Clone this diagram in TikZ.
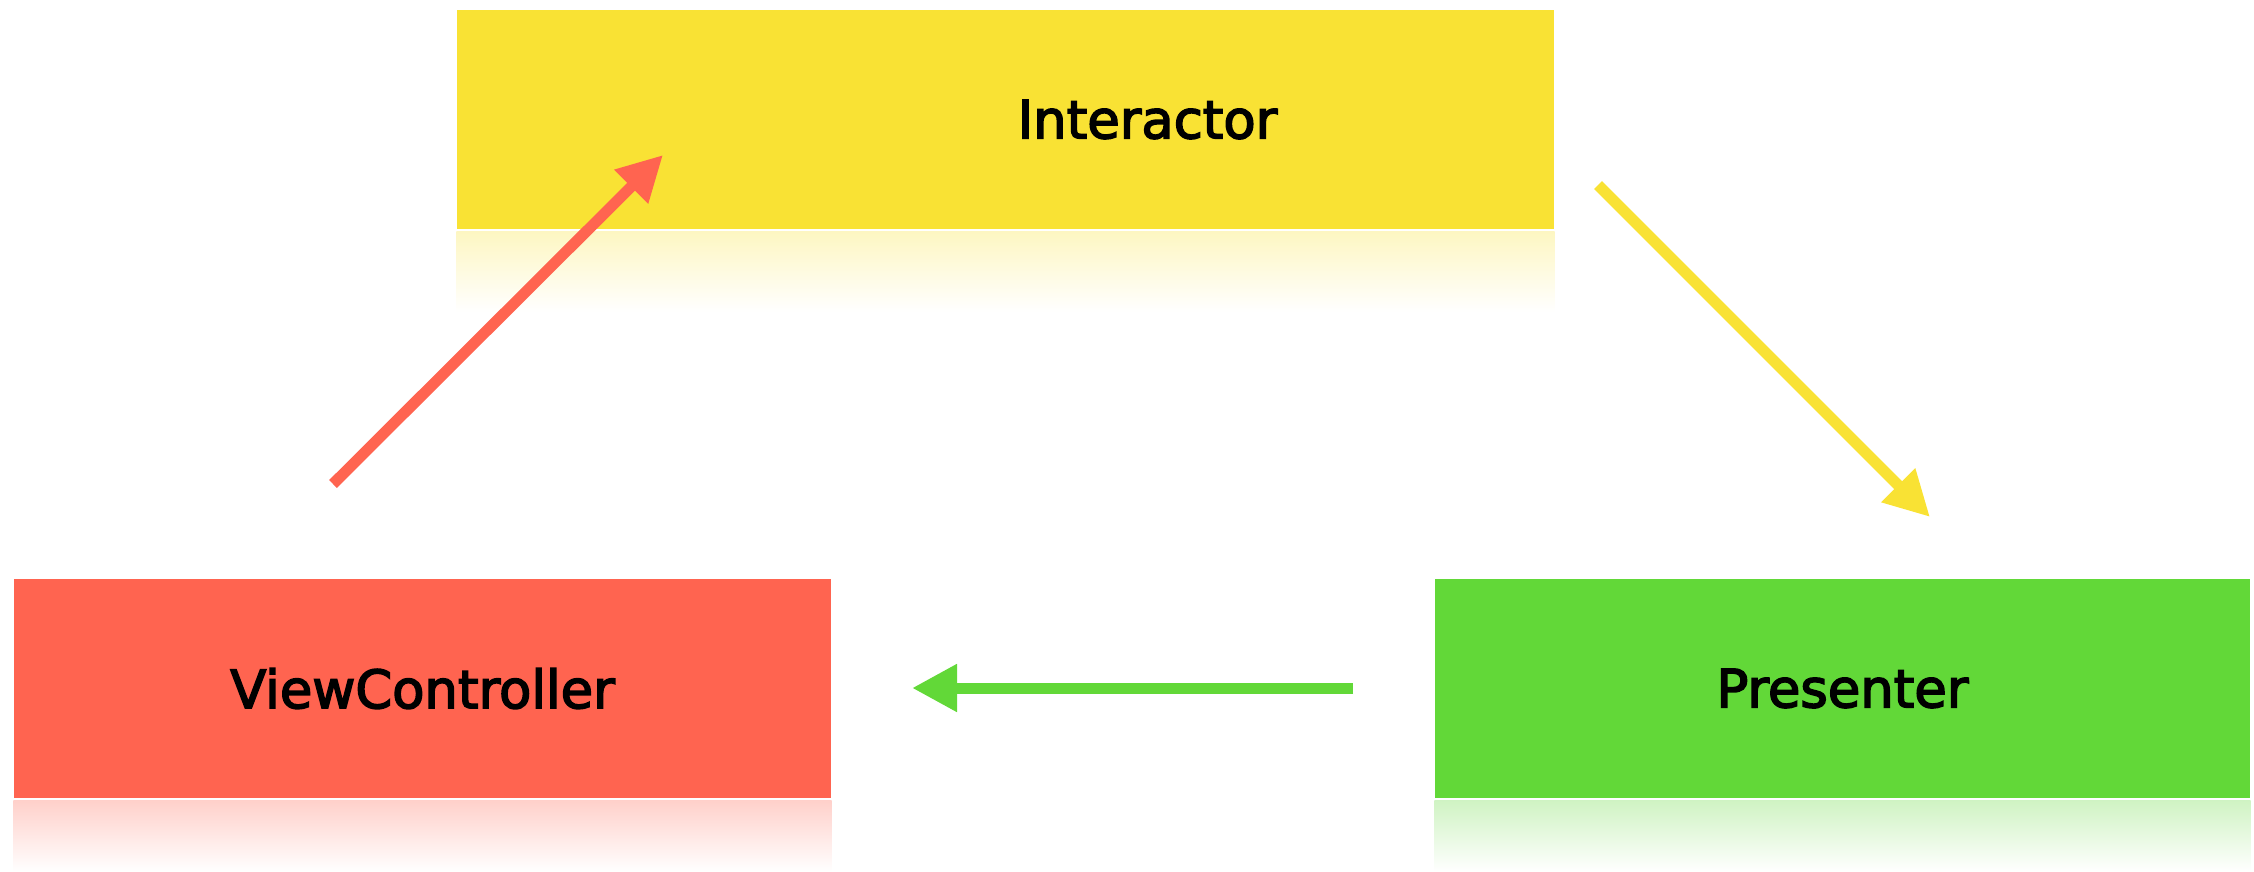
\documentclass[tikz,border=0pt]{standalone}
\usepackage{fontspec}
\setmainfont{DejaVu Sans}
\newfontfamily\boxfont{DejaVu Sans}[FakeBold=3]
\usetikzlibrary{arrows.meta, calc}
\definecolor{intyellow}{RGB}{249,226,52}
\definecolor{vcred}{RGB}{255,100,80}
\definecolor{presgreen}{RGB}{98,216,56}
\tikzstyle{label_text} = [inner sep=0pt, font=\boxfont\fontsize{15}{18}\selectfont]
\tikzstyle{box} = [rectangle, inner sep=0pt, minimum height=2.19cm, text centered, label_text]
\tikzstyle{box_int} = [box, fill=intyellow, minimum width=10.97cm]
\tikzstyle{box_vc} = [box, fill=vcred, minimum width=8.17cm]
\tikzstyle{box_pres} = [box, fill=presgreen, minimum width=8.15cm]
\tikzstyle{line} = [draw, line width=0.11cm, -{Triangle[length=0.45cm, width=0.45cm]}]

\begin{document}
\begin{tikzpicture}
	\useasboundingbox (0,0) rectangle (22.54,8.71);
	\node [box_int] (int) at (10.055,7.515) {};
	\node [label_text] (int_text) at ($(int.center)+(1.42,0)$) {Interactor};
	\node [box_vc] (vc) at (4.225,1.825) {ViewController};
	\node [box_pres] (pres) at (18.425,1.825) {Presenter};
	
	% reflections
	\shade [top color=intyellow!30, bottom color=white] ($(int.south west)+(0,-0.02)$) rectangle ($(int.south east)+(0,-0.82)$);
	\shade [top color=vcred!30, bottom color=white] ($(vc.south west)+(0,-0.02)$) rectangle ($(vc.south east)+(0,-0.73)$);
	\shade [top color=presgreen!30, bottom color=white] ($(pres.south west)+(0,-0.02)$) rectangle ($(pres.south east)+(0,-0.73)$);
	
	% arrow ends
	\coordinate (vc_out) at (3.33,3.87);
	\coordinate (int_in) at (6.63,7.16);
	\coordinate (int_out) at (15.98,6.86);
	\coordinate (pres_in) at (19.30,3.54);
	\coordinate (pres_out) at (13.53,1.83);
	\coordinate (vc_in) at (9.12,1.83);
	
	\path [line, color=vcred] (vc_out) to (int_in);
	\path [line, color=intyellow] (int_out) to (pres_in);
	\path [line, color=presgreen] (pres_out) to (vc_in);
\end{tikzpicture}
\end{document}
